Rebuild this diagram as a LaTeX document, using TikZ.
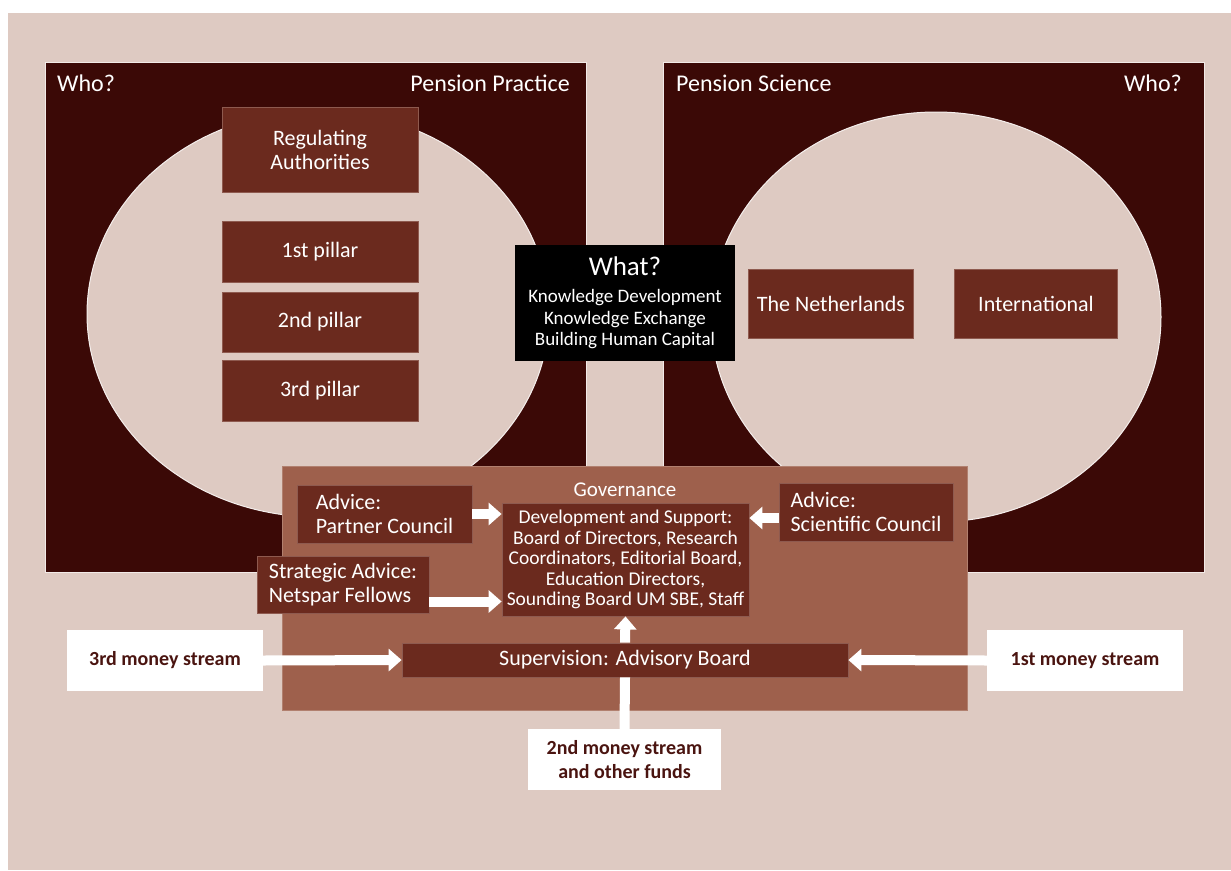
\documentclass[tikz,border=0pt]{standalone}
\usepackage{fontspec}
\setmainfont{Carlito}
\usetikzlibrary{arrows.meta}
\definecolor{beige}{HTML}{DECAC2}
\definecolor{darkbrown}{HTML}{3B0906}
\definecolor{midbrown}{HTML}{6B2A1E}
\definecolor{govbrown}{HTML}{9E604C}
\definecolor{textbrown}{HTML}{4A1410}
\tikzset{
  field/.style={fill=darkbrown,draw=white!60!beige,line width=1pt,inner sep=0pt},
  box/.style={fill=midbrown,draw=midbrown!70!beige,line width=0.8pt,text=white,align=center,inner sep=0pt,font=\fontsize{22}{24}\selectfont},
  money/.style={fill=white,text=textbrown,align=center,inner sep=0pt,font=\fontsize{20}{24}\selectfont\bfseries},
  title/.style={text=white,inner sep=0pt,font=\fontsize{24}{28}\selectfont},
  flow/.style={white,line width=10pt,-{Triangle[width=22pt,length=13pt]}}
}
\begin{document}
\begin{tikzpicture}[x=1pt,y=-1pt]%[line cap=round,line join=round]
\useasboundingbox (0,0) rectangle (1231,870);
\fill [white] (0,0) rectangle (1231,870);
\fill [beige] (8,13) rectangle (1231,870);
% who? fields
\node [field,minimum width=541,minimum height=510] (practicebox) at (316,317) {};
\node [field,minimum width=541,minimum height=510] (sciencebox) at (934,317) {};
\draw [fill=beige,draw=white!70!beige,line width=1pt] (318,314) ellipse [x radius=231pt,y radius=203pt];
\draw [fill=beige,draw=white!70!beige,line width=1pt] (936,317) ellipse [x radius=225pt,y radius=205pt];
\node [title,anchor=west] (wholeft) at (57,83) {Who?};
\node [title,anchor=east] (practice) at (570,83) {Pension Practice};
\node [title,anchor=west] (science) at (676,83) {Pension Science};
\node [title,anchor=east] (whoright) at (1182,83) {Who?};
% pension practice
\node [box,minimum width=196,minimum height=85] (regauth) at (320,150) {Regulating\\Authorities};
\node [box,minimum width=196,minimum height=61] (pillarone) at (320,252) {1st pillar};
\node [box,minimum width=196,minimum height=60] (pillartwo) at (320,322) {2nd pillar};
\node [box,minimum width=196,minimum height=61] (pillarthree) at (320,391) {3rd pillar};
% pension science
\node [box,minimum width=165,minimum height=69] (nl) at (831,304) {The Netherlands};
\node [box,minimum width=163,minimum height=69] (intl) at (1036,304) {International};
% what
\node [fill=black,text=white,align=center,inner sep=0pt,minimum width=220,minimum height=116,
  font=\fontsize{19}{21.5}\selectfont] (what) at (625,303)
  {{\fontsize{27}{30}\selectfont What?}\\[6pt]Knowledge Development\\Knowledge Exchange\\Building Human Capital};
% governance
\node [fill=govbrown,draw=govbrown!70!beige,line width=0.8pt,minimum width=685,minimum height=244] (govbox) at (625,588) {};
\node [title,font=\fontsize{21}{24}\selectfont] (governance) at (625,490) {Governance};
\node [box,minimum width=175,minimum height=58,align=left] (partner) at (384.5,514) {Advice:\\Partner Council};
\node [box,minimum width=174,minimum height=58,align=left] (scientific) at (866,512) {Advice:\\Scientific Council};
\node [box,minimum width=172,minimum height=57,align=left] (fellows) at (343,584.5) {Strategic Advice:\\Netspar Fellows};
\node [box,minimum width=247,minimum height=113,font=\fontsize{19.5}{20.5}\selectfont] (devsupport) at (625.5,559.5)
  {Development and Support:\\Board of Directors, Research\\Coordinators, Editorial Board,\\Education Directors,\\Sounding Board UM SBE, Staff};
\node [box,minimum width=446,minimum height=34] (supervision) at (625,660) {Supervision: Advisory Board};
% money streams
\node [money,minimum width=196,minimum height=61] (moneythree) at (165,660.5) {3rd money stream};
\node [money,minimum width=196,minimum height=61] (moneyone) at (1085,660.5) {1st money stream};
\node [money,minimum width=193,minimum height=61] (moneytwo) at (624.5,759.5) {2nd money stream\\and other funds};
% arrows
\draw [flow] (partner.east) -- (partner.east -| devsupport.west);
\draw [flow] ([yshift=-6pt]scientific.west) -- ([yshift=-6pt]scientific.west -| devsupport.east);
\draw [flow] ([yshift=-17pt]fellows.east) -- ([yshift=-17pt]fellows.east -| devsupport.west);
\draw [flow] (supervision.north) -- (devsupport.south);
\draw [flow] (moneythree.east) -- (supervision.west);
\draw [flow] (moneyone.west) -- (supervision.east);
\draw [white,line width=10pt] (moneytwo.north) -- (supervision.south);
\end{tikzpicture}
\end{document}
